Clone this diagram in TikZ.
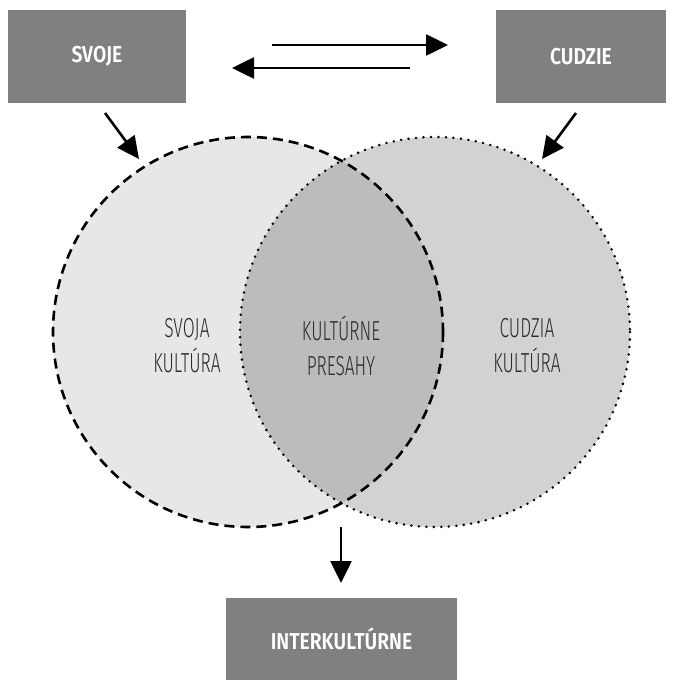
\documentclass[tikz,border=0pt]{standalone}
\usepackage{fontspec}
\setmainfont{Fira Sans}
\newfontfamily\lightcond[FakeStretch=0.63]{Fira Sans Light}
\newfontfamily\boldcond[FakeStretch=0.84]{Fira Sans SemiBold}
\usetikzlibrary{arrows.meta}
\definecolor{boxgray}{HTML}{808083}
\definecolor{leftfill}{HTML}{E6E7E8}
\definecolor{rightfill}{HTML}{D1D2D3}
\definecolor{midfill}{HTML}{BBBCBE}
\definecolor{txt}{HTML}{2B2B2B}
\tikzset{
  graybox/.style={fill=boxgray, text=white, font=\boldcond\fontsize{23}{26}\selectfont, inner sep=0pt, anchor=center},
  circlabel/.style={text=txt, font=\lightcond\fontsize{27.5}{35}\selectfont, align=center},
  bigarrow/.style={line width=2.6pt, -{Triangle[length=22pt,width=21pt]}},
}
\begin{document}
\begin{tikzpicture}[x=1pt,y=-1pt]
\useasboundingbox (0,0) rectangle (672,687);
% circles
\fill[leftfill] (248,332) circle (195);
\fill[rightfill] (435,332) circle (195);
\begin{scope}
  \clip (248,332) circle (195);
  \fill[midfill] (435,332) circle (195);
\end{scope}
\draw[line width=2.6pt, dash pattern=on 10pt off 6pt] (248,332) circle (195);
\draw[line width=2.8pt, line cap=round, dash pattern=on 0pt off 7.5pt] (435,332) circle (195);
% boxes
\node[graybox, minimum width=178pt, minimum height=93pt] (svoje) at (97,56.5) {SVOJE};
\node[graybox, minimum width=170pt, minimum height=93pt] (cudzie) at (581,56.5) {CUDZIE};
\node[graybox, minimum width=231pt, minimum height=82pt] (inter) at (341.5,639) {INTERKULTÚRNE};
% labels
\node[circlabel] (svojak) at (187,346) {SVOJA\\KULTÚRA};
\node[circlabel] (presahy) at (341,346) {KULTÚRNE\\PRESAHY};
\node[circlabel] (cudziak) at (527,346) {CUDZIA\\KULTÚRA};
% arrow coordinates
\coordinate (t1s) at (272,45);
\coordinate (t1e) at (448,45);
\coordinate (t2s) at (410,68);
\coordinate (t2e) at (232,68);
\coordinate (d1s) at (105,113);
\coordinate (d1e) at (139,159);
\coordinate (d2s) at (576,113);
\coordinate (d2e) at (542,159);
\coordinate (ds) at (341,527);
\coordinate (de) at (341,583);
\draw[bigarrow] (t1s) -- (t1e);
\draw[bigarrow] (t2s) -- (t2e);
\draw[bigarrow] (d1s) -- (d1e);
\draw[bigarrow] (d2s) -- (d2e);
\draw[bigarrow] (ds) -- (de);
\end{tikzpicture}
\end{document}
